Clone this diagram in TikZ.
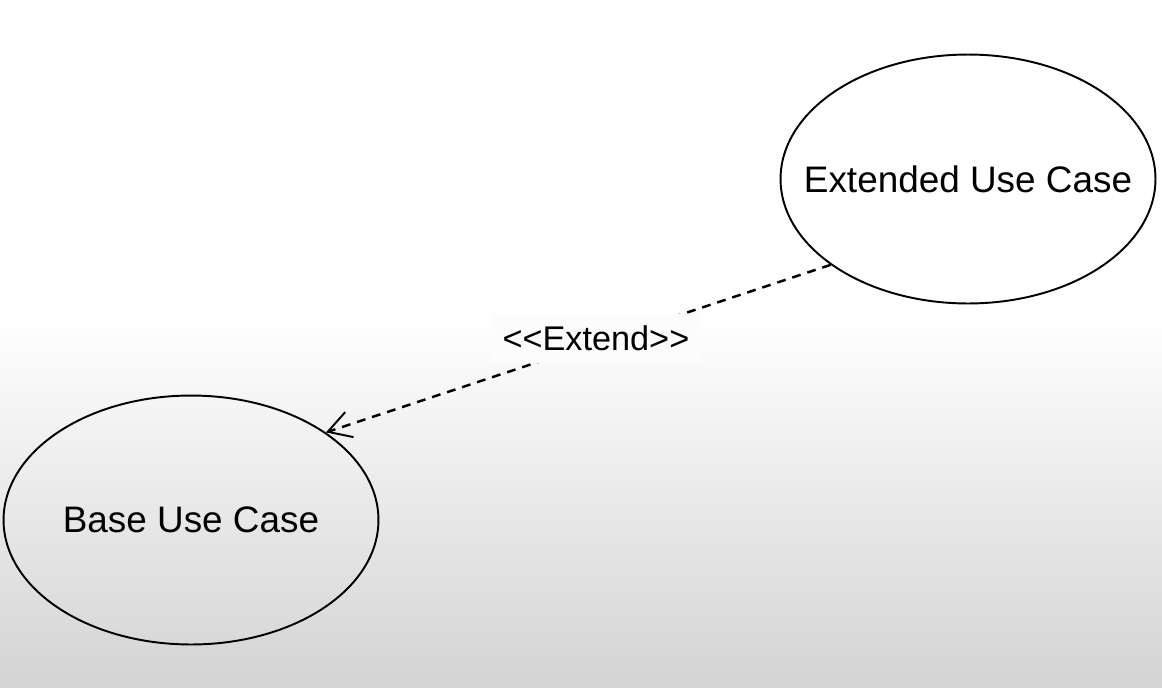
\documentclass[tikz,border=0pt]{standalone}
\usepackage{fontspec}
\setmainfont{Liberation Sans}
\usetikzlibrary{shapes, arrows.meta, positioning}

\begin{document}
\begin{tikzpicture}[x=0.02cm, y=-0.02cm]
    \tikzstyle{usecase} = [ellipse, draw, line width=1.1pt, inner sep=0pt, minimum width=7.5cm, minimum height=4.98cm, font=\fontsize{21}{25}\selectfont]
    \tikzstyle{extendarrow} = [line width=1.4pt, dash pattern=on 5pt off 4pt, -{Straight Barb[length=13pt, width=15pt, line width=1.1pt]}]
    \tikzstyle{stereotype} = [fill=black!1, inner xsep=6pt, inner ysep=7pt, font=\fontsize{19.5}{23}\selectfont]

    % Background
    \useasboundingbox (0,0) rectangle (1162,687);
    \fill[white] (0,0) rectangle (1162,315);
    \shade[top color=white, bottom color=black!17] (0,315) rectangle (1162,687);

    \node (extended) [usecase] at (968,179) {\makebox[0pt]{Extended Use Case}};
    \node (base) [usecase] at (191,520) {\makebox[0pt]{Base Use Case}};

    % Arrows
    \draw [extendarrow] (extended.212.5) -- node[stereotype, pos=0.465, yshift=2.5pt] {<{}<Extend>{}>} (base.33.3);
\end{tikzpicture}
\end{document}
